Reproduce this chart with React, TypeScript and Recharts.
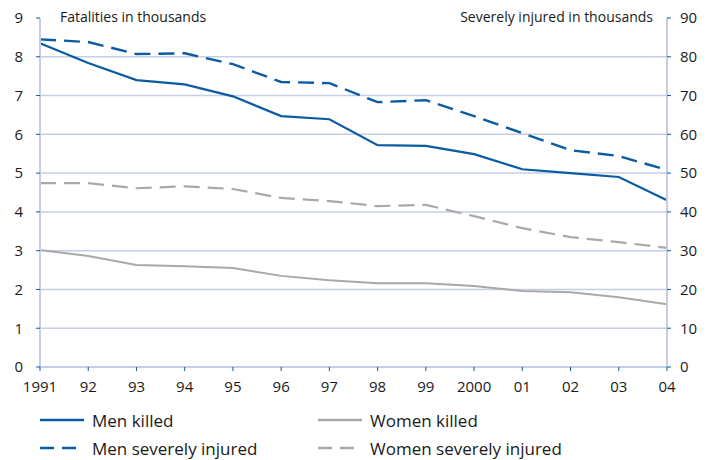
import React from 'react';
import { LineChart, Line, XAxis, YAxis, CartesianGrid } from 'recharts';

const years = ['1991', '92', '93', '94', '95', '96', '97', '98', '99', '2000', '01', '02', '03', '04'];
const menKilled = [8.35, 7.84, 7.4, 7.29, 6.98, 6.47, 6.39, 5.72, 5.7, 5.49, 5.1, 5.0, 4.9, 4.3];
const womenKilled = [3.02, 2.86, 2.63, 2.6, 2.55, 2.35, 2.24, 2.16, 2.16, 2.09, 1.96, 1.93, 1.8, 1.62];
const menInjured = [84.5, 83.8, 80.7, 80.9, 78.1, 73.5, 73.2, 68.3, 68.8, 64.7, 60.3, 55.9, 54.4, 50.8];
const womenInjured = [47.4, 47.4, 46.1, 46.6, 45.9, 43.6, 42.8, 41.5, 41.8, 38.9, 35.8, 33.5, 32.2, 30.7];
const leftTicks = [0, 1, 2, 3, 4, 5, 6, 7, 8, 9];
const rightTicks = [0, 10, 20, 30, 40, 50, 60, 70, 80, 90];

const data = years.map((y, i) => ({
  year: y,
  menKilled: menKilled[i],
  womenKilled: womenKilled[i],
  menInjured: menInjured[i],
  womenInjured: womenInjured[i],
}));

const BLUE = '#0b5ba3';
const GRAY = '#a9a9a9';
const GRID = '#c6cde7';
const FONT = '"Open Sans", sans-serif';
const tickStyle = { fontFamily: FONT, fontSize: 15, fill: '#1a1a1a' } as any;

const legendItems = [
  { label: 'Men killed', color: BLUE, dash: undefined, x: 40, y: 420 },
  { label: 'Women killed', color: GRAY, dash: undefined, x: 318, y: 420 },
  { label: 'Men severely injured', color: BLUE, dash: '16 8', x: 40, y: 448 },
  { label: 'Women severely injured', color: GRAY, dash: '16 8', x: 318, y: 448 },
];

export default function App() {
  return (
    <div style={{ position: 'absolute', left: 0, top: 0, width: 712, height: 460, background: '#fff', fontFamily: FONT }}>
      <LineChart width={712} height={460} data={data} margin={{ top: 18, right: 0, left: 0, bottom: 63 }}>
        <CartesianGrid vertical={false} stroke={GRID} strokeWidth={1.5} horizontalValues={[1, 2, 3, 4, 5, 6, 7, 8]} yAxisId="left" />
        <XAxis
          dataKey="year"
          interval={0}
          height={30}
          tickSize={4}
          tickMargin={10}
          axisLine={{ stroke: GRID, strokeWidth: 2 }}
          tickLine={{ stroke: BLUE }}
          tick={tickStyle}
        />
        <YAxis
          yAxisId="left"
          domain={[0, 9]}
          ticks={leftTicks}
          width={40}
          tickSize={4}
          tickMargin={13}
          axisLine={{ stroke: GRID, strokeWidth: 2 }}
          tickLine={{ stroke: BLUE }}
          tick={tickStyle}
        />
        <YAxis
          yAxisId="right"
          orientation="right"
          domain={[0, 90]}
          ticks={rightTicks}
          width={45}
          tickSize={4}
          tickMargin={9}
          axisLine={{ stroke: GRID, strokeWidth: 2 }}
          tickLine={{ stroke: BLUE }}
          tick={tickStyle}
        />
        <Line yAxisId="left" dataKey="womenKilled" stroke={GRAY} strokeWidth={2} dot={false} isAnimationActive={false} />
        <Line yAxisId="right" dataKey="womenInjured" stroke={GRAY} strokeWidth={2.2} strokeDasharray="16 8" dot={false} isAnimationActive={false} />
        <Line yAxisId="left" dataKey="menKilled" stroke={BLUE} strokeWidth={2.2} dot={false} isAnimationActive={false} />
        <Line yAxisId="right" dataKey="menInjured" stroke={BLUE} strokeWidth={2.4} strokeDasharray="16 8" dot={false} isAnimationActive={false} />
      </LineChart>
      <div style={{ position: 'absolute', left: 60, top: 7, fontSize: 14, color: '#1a1a1a' }}>Fatalities in thousands</div>
      <div style={{ position: 'absolute', right: 59, top: 7, fontSize: 14, color: '#1a1a1a' }}>Severely injured in thousands</div>
      {legendItems.map((it) => (
        <div key={it.label} style={{ position: 'absolute', left: it.x, top: it.y - 12, height: 24, display: 'flex', alignItems: 'center' }}>
          <svg width={44} height={6} style={{ marginRight: 8 }}>
            <line x1={0} y1={3} x2={44} y2={3} stroke={it.color} strokeWidth={2.4} strokeDasharray={it.dash ? '14 8' : undefined} />
          </svg>
          <span style={{ fontSize: 17, color: '#1a1a1a' }}>{it.label}</span>
        </div>
      ))}
    </div>
  );
}
